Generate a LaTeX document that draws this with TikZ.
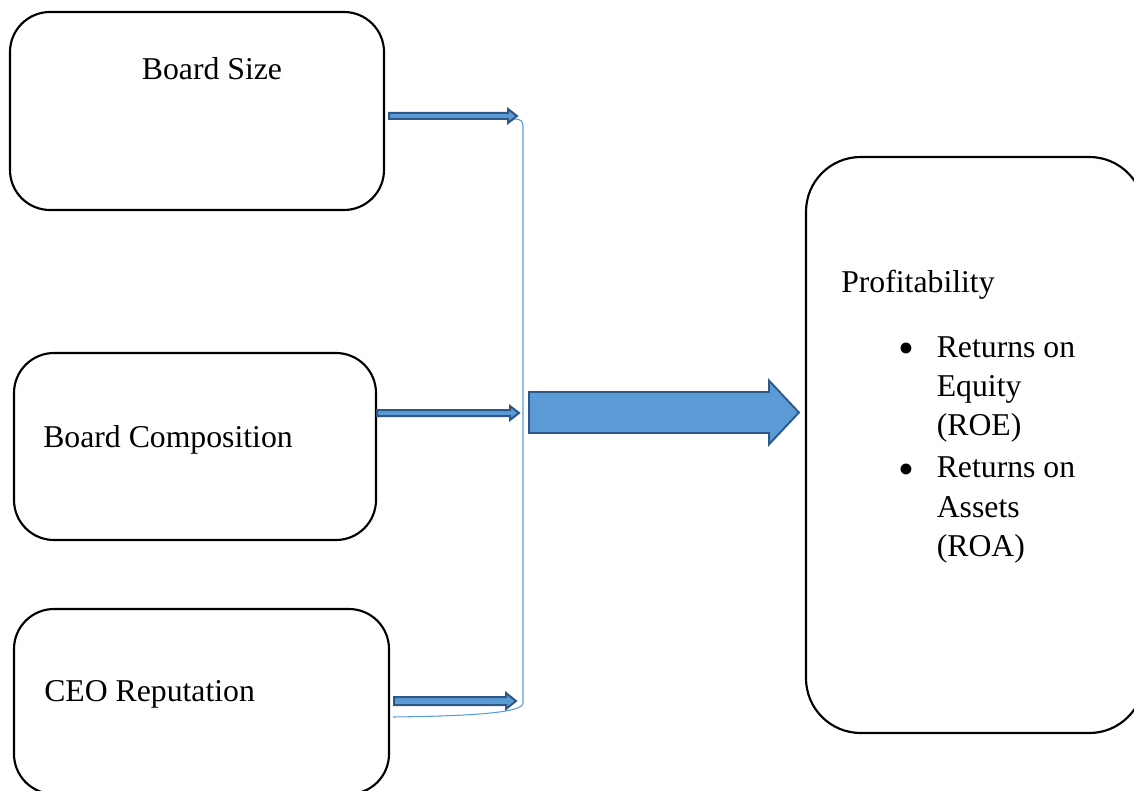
\documentclass[tikz,border=0pt]{standalone}
\usepackage{fontspec}
\setmainfont{Liberation Serif}
\usepackage{xcolor}
\usetikzlibrary{calc,positioning}
\definecolor{arrfill}{HTML}{5B9BD5}
\definecolor{arrdraw}{HTML}{2C5786}
% block arrow: style, from, to, half body, half head, head length
\newcommand{\blockarrow}[6]{%
  \filldraw[#1] ($(#2)+(0,#4)$) -- ($(#3)+(-#6,#4)$) -- ($(#3)+(-#6,#5)$) -- (#3)
    -- ($(#3)+(-#6,-#5)$) -- ($(#3)+(-#6,-#4)$) -- ($(#2)+(0,-#4)$) -- cycle;}
\newcommand{\bigbul}{\raisebox{-0.45ex}{\fontsize{34}{34}\selectfont\textbullet}}

\begin{document}
\begin{tikzpicture}[
		x=0.75pt,y=-0.75pt,
		box/.style={
		  draw,
		  line width=1.6pt,
		  rounded corners=30pt,
		  inner sep=0pt
		  },
		arr/.style={
		  fill=arrfill,
		  draw=arrdraw,
		  line width=1.4pt,
		  line join=miter
		  },
		smallarr/.style={
		  arr,
		  line width=1.5pt
		  },
		link/.style={
		  draw=arrfill,
		  line width=0.8pt
		  },
		font=\fontsize{23.8}{29.5}\selectfont
		]
		\useasboundingbox (0,0) rectangle (1134,791);
		\node[box, minimum width=280.5pt, minimum height=148.5pt] (size) at (197,111) {};
		\node[box, minimum width=271.5pt, minimum height=140.25pt] (comp) at (195,446.5) {};
		\node[box, minimum width=281.25pt, minimum height=138.75pt] (ceo) at (201.5,701.5) {};
		\node[box, rounded corners=41pt, minimum width=253.5pt, minimum height=432pt] (profit) at (975,445) {};
		\node[anchor=base] (sizetxt) at (212,80) {Board Size};
		\node[anchor=base west, inner sep=0pt] (comptxt) at (43,447) {Board Composition};
		\node[anchor=base west, inner sep=0pt] (ceotxt) at (44,701) {CEO Reputation};
		\node[anchor=base west, inner sep=0pt] (ptitle) at (841,293) {Profitability};
		\node[anchor=base west, inner sep=0pt] (plist) at (898,357) {%
		  \begin{tabular}[t]{@{}l@{\hspace{17pt}}l@{}}
		  \bigbul & Returns on\\
		   & Equity\\
		   & (ROE)\\[2pt]
		  \bigbul & Returns on\\
		   & Assets\\
		   & (ROA)
		  \end{tabular}};
		\coordinate (s1) at ($(size.east)+(4,5)$);
		\coordinate (s2) at ($(comp.east)+(0,-33.5)$);
		\coordinate (s3) at ($(ceo.east)+(4,-0.5)$);
		\coordinate (e1) at (517,116);
		\coordinate (e2) at (519,413);
		\coordinate (e3) at (516,701);
		\coordinate (jt) at (523,127);
		\coordinate (jb) at (523,703);
		\coordinate (b1) at (529,412.5);
		\coordinate (b2) at ($(profit.west)+(-6,-32.5)$);
		\draw[link] ($(e1)+(-3,3)$) .. controls (521,119) and (523,121) .. (jt) -- (jb)
		  .. controls (523,713) and (470,716) .. ($(ceo.east)+(3,15.5)$);
		\blockarrow{smallarr}{s1}{e1}{3}{7}{9}
		\blockarrow{smallarr}{s2}{e2}{3}{7}{9}
		\blockarrow{smallarr}{s3}{e3}{4}{8}{10}
		\blockarrow{arr}{b1}{b2}{20.5}{32}{30}
	\end{tikzpicture}
\end{document}
